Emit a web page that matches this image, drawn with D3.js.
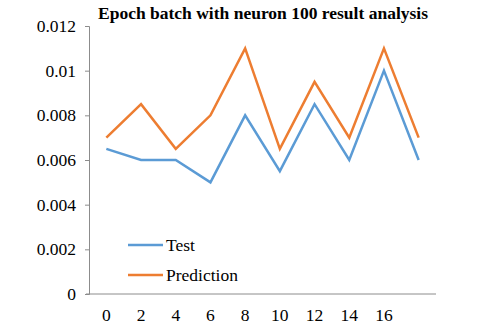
<!DOCTYPE html>
<html>
<head>
  <meta charset="utf-8">
  <script src="https://d3js.org/d3.v7.min.js"></script>
  <style>
    body { margin: 0; background: #fff; }
  </style>
</head>
<body>
<script type="text/javascript">
"use strict";

// chart data
var categories = ["0", "2", "4", "6", "8", "10", "12", "14", "16", ""];
var testValues = [0.0065, 0.006, 0.006, 0.005, 0.008, 0.0055, 0.0085, 0.006, 0.01, 0.006];
var predictionValues = [0.007, 0.0085, 0.0065, 0.008, 0.011, 0.0065, 0.0095, 0.007, 0.011, 0.007];
var yTicks = [0, 0.002, 0.004, 0.006, 0.008, 0.01, 0.012];

var width = 480, height = 329;
var plotLeft = 89, plotRight = 436, plotTop = 26, plotBottom = 294;
var serif = "'Liberation Serif', 'Times New Roman', Times, serif";

var svg = d3.select("body").append("svg")
    .attr("width", width)
    .attr("height", height);

var x = d3.scaleBand()
    .domain(d3.range(categories.length))
    .range([plotLeft, plotRight]);

var y = d3.scaleLinear()
    .domain([0, 0.012])
    .range([plotBottom, plotTop]);

// y axis
var yAxis = svg.append("g")
    .attr("transform", "translate(" + plotLeft + ",0)")
    .call(d3.axisLeft(y).tickValues(yTicks).tickSize(4).tickPadding(9)
        .tickFormat(function (d) { return d === 0 ? "0" : String(+d.toFixed(3)); }));
yAxis.attr("font-family", serif);
yAxis.select(".domain").attr("stroke", "#8c8c8c");
yAxis.selectAll(".tick line").attr("stroke", "#8c8c8c");
yAxis.selectAll("text").style("font-family", serif).style("font-size", "17.5px").attr("fill", "#000");

// x axis
var xAxis = svg.append("g")
    .attr("transform", "translate(0," + plotBottom + ")")
    .call(d3.axisBottom(x).tickSize(0).tickPadding(15)
        .tickFormat(function (i) { return categories[i]; }));
xAxis.attr("font-family", serif);
xAxis.select(".domain").attr("stroke", "#8c8c8c").attr("d", "M" + (plotLeft - 3) + ",0H" + plotRight);
xAxis.selectAll("text").style("font-family", serif).style("font-size", "17.5px").attr("fill", "#000");

var line = d3.line()
    .x(function (d, i) { return x(i) + x.bandwidth() / 2; })
    .y(function (d) { return y(d); });

var series = [
    { name: "Test", values: testValues, color: "#5b9bd5" },
    { name: "Prediction", values: predictionValues, color: "#ed7d31" }
];

svg.selectAll(".series")
    .data(series)
    .enter().append("path")
    .attr("class", "series")
    .attr("fill", "none")
    .attr("stroke", function (d) { return d.color; })
    .attr("stroke-width", 2.5)
    .attr("stroke-linejoin", "miter")
    .attr("d", function (d) { return line(d.values); });

// legend
var legend = svg.selectAll(".legend")
    .data(series)
    .enter().append("g")
    .attr("class", "legend")
    .attr("transform", function (d, i) { return "translate(128," + (245 + i * 30) + ")"; });
legend.append("line")
    .attr("x1", 0).attr("x2", 35)
    .attr("stroke", function (d) { return d.color; })
    .attr("stroke-width", 2.5);
legend.append("text")
    .attr("x", 38)
    .attr("dy", "0.35em")
    .style("font-family", serif)
    .style("font-size", "17.5px")
    .text(function (d) { return d.name; });

// title
svg.append("text")
    .attr("x", 263)
    .attr("y", 19)
    .attr("text-anchor", "middle")
    .style("font-family", serif)
    .style("font-size", "17.5px")
    .style("font-weight", "bold")
    .text("Epoch batch with neuron 100 result analysis");
</script>
</body>
</html>
